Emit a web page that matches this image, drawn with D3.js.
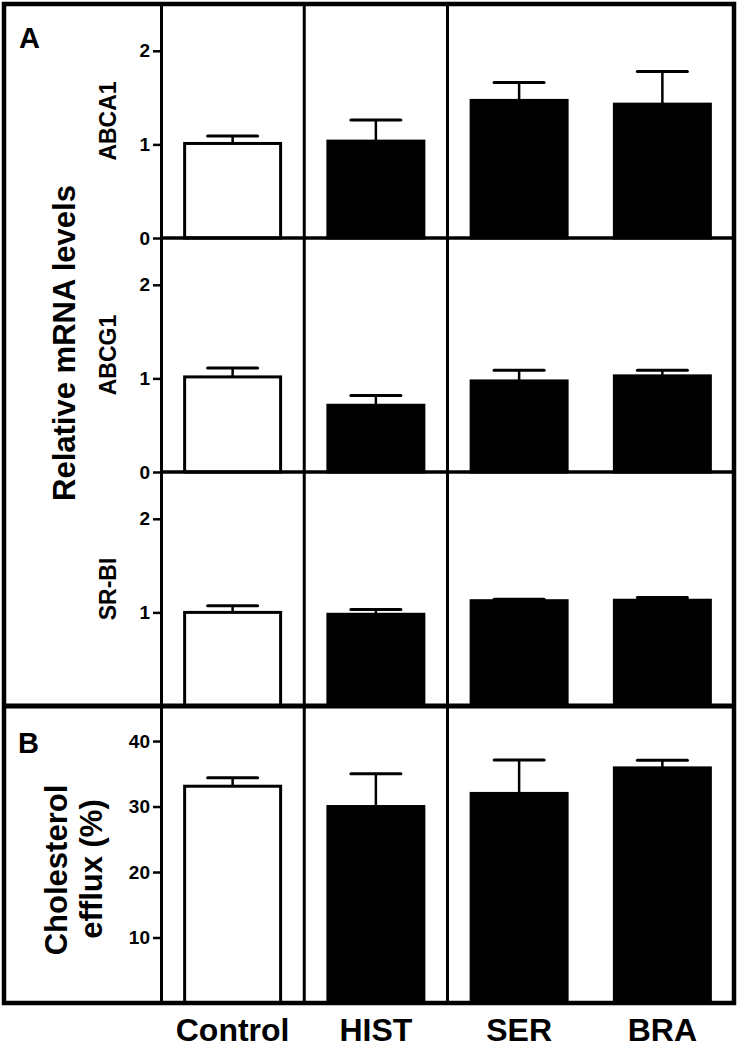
<!DOCTYPE html>
<html>
<head>
<meta charset="utf-8">
<script src="https://cdn.jsdelivr.net/npm/d3@7"></script>
<style>
  html, body { margin: 0; padding: 0; background: #fff; }
  svg { display: block; }
  text { font-family: "Liberation Sans", Arial, Helvetica, sans-serif; fill: #000; }
</style>
</head>
<body>
<svg id="chart" width="738" height="1049"></svg>
<script>
// ---- data ----
const categories = ["Control", "HIST", "SER", "BRA"];
const barFills = ["#ffffff", "#000000", "#000000", "#000000"];

const abca1     = [1.01, 1.035, 1.47, 1.43];
const abca1Err  = [0.08, 0.225, 0.19, 0.35];
const abcg1     = [1.016, 0.713, 0.973, 1.027];
const abcg1Err  = [0.094, 0.104, 0.115, 0.061];
const srbi      = [1.0, 0.98, 1.125, 1.13];
const srbiErr   = [0.07, 0.05, 0.015, 0.03];
const efflux    = [33.1, 30.0, 32.0, 35.9];
const effluxErr = [1.3, 5.0, 5.1, 1.15];

const mrnaTicks   = [0, 1, 2];
const srbiTicks   = [1, 2];
const effluxTicks = [10, 20, 30, 40];

// ---- layout ----
const svg = d3.select("#chart");
const plotLeft = 161, plotRight = 734, plotTop = 4;
const hA = 234, hB = 297;

const panels = [
  { name: "ABCA1", values: abca1, err: abca1Err, ticks: mrnaTicks, max: 2.5, y0: plotTop, h: hA, zeroLine: true },
  { name: "ABCG1", values: abcg1, err: abcg1Err, ticks: mrnaTicks, max: 2.5, y0: plotTop + hA, h: hA, zeroLine: true },
  { name: "SR-BI", values: srbi, err: srbiErr, ticks: srbiTicks, max: 2.5, y0: plotTop + 2 * hA, h: hA, zeroLine: false },
  { name: "B", values: efflux, err: effluxErr, ticks: effluxTicks, max: 45.35, y0: plotTop + 3 * hA, h: hB, zeroLine: false }
];
const plotBottom = plotTop + 3 * hA + hB;

const x = d3.scaleBand().domain(categories).range([plotLeft, plotRight])
  .paddingInner(0.33).paddingOuter(0.165);
const capHalf = 25;

panels.forEach(p => {
  const y = d3.scaleLinear().domain([0, p.max]).range([p.y0 + p.h, p.y0]);
  const g = svg.append("g");

  // bars
  g.selectAll("rect.bar").data(categories).join("rect")
    .attr("class", "bar")
    .attr("x", d => x(d))
    .attr("width", x.bandwidth())
    .attr("y", (d, i) => y(p.values[i]))
    .attr("height", (d, i) => y(0) - y(p.values[i]))
    .attr("fill", (d, i) => barFills[i])
    .attr("stroke", "#000")
    .attr("stroke-width", 3);

  // error bars
  const cx = d => x(d) + x.bandwidth() / 2;
  g.selectAll("line.stem").data(categories).join("line")
    .attr("class", "stem")
    .attr("x1", cx).attr("x2", cx)
    .attr("y1", (d, i) => y(p.values[i]))
    .attr("y2", (d, i) => y(p.values[i] + p.err[i]))
    .attr("stroke", "#000").attr("stroke-width", 2.5);
  g.selectAll("line.cap").data(categories).join("line")
    .attr("class", "cap")
    .attr("x1", d => cx(d) - capHalf).attr("x2", d => cx(d) + capHalf)
    .attr("y1", (d, i) => y(p.values[i] + p.err[i]))
    .attr("y2", (d, i) => y(p.values[i] + p.err[i]))
    .attr("stroke", "#000").attr("stroke-width", 3).attr("stroke-linecap", "round");

  // zero line
  if (p.zeroLine) {
    g.append("line").attr("x1", plotLeft).attr("x2", plotRight)
      .attr("y1", y(0)).attr("y2", y(0))
      .attr("stroke", "#000").attr("stroke-width", 3.5);
  }

  // axis
  const axis = d3.axisLeft(y).tickValues(p.ticks).tickSizeInner(8).tickSizeOuter(0).tickPadding(3)
    .tickFormat(d3.format("d"));
  const ag = svg.append("g").attr("transform", `translate(${plotLeft},0)`).call(axis);
  ag.select(".domain").attr("stroke", "#000").attr("stroke-width", 3);
  ag.selectAll(".tick line").attr("stroke", "#000").attr("stroke-width", 2.5);
  ag.selectAll(".tick text")
    .style("font-family", '"Liberation Sans", Arial, sans-serif')
    .style("font-size", "19px").style("font-weight", "bold").attr("fill", "#000");

  // panel gene label
  if (p.name !== "B") {
    svg.append("text")
      .attr("transform", `translate(116,${p.y0 + p.h / 2}) rotate(-90)`)
      .attr("text-anchor", "middle")
      .style("font-size", "23px").style("font-weight", "bold")
      .text(p.name);
  }
});

// vertical dividers between groups
[1, 2].forEach(i => {
  const xv = x(categories[i]) - x.step() * x.paddingInner() / 2;
  svg.append("line").attr("x1", xv).attr("x2", xv).attr("y1", plotTop).attr("y2", plotBottom)
    .attr("stroke", "#000").attr("stroke-width", 3);
});

// separator between A and B
svg.append("line").attr("x1", 4).attr("x2", plotRight)
  .attr("y1", plotTop + 3 * hA).attr("y2", plotTop + 3 * hA)
  .attr("stroke", "#000").attr("stroke-width", 5);

// outer frame
svg.append("rect").attr("x", 4).attr("y", plotTop).attr("width", plotRight - 4).attr("height", plotBottom - plotTop)
  .attr("fill", "none").attr("stroke", "#000").attr("stroke-width", 4.5);

// panel letters
svg.append("text").attr("x", 19).attr("y", 48).style("font-size", "29px").style("font-weight", "bold").text("A");
svg.append("text").attr("x", 18).attr("y", 753).style("font-size", "29px").style("font-weight", "bold").text("B");

// y titles
svg.append("text")
  .attr("transform", "translate(75,343) rotate(-90)")
  .attr("text-anchor", "middle")
  .style("font-size", "31px").style("font-weight", "bold")
  .text("Relative mRNA levels");

svg.append("text")
  .attr("transform", "translate(67,870) rotate(-90)")
  .attr("text-anchor", "middle")
  .style("font-size", "31px").style("font-weight", "bold")
  .text("Cholesterol");
svg.append("text")
  .attr("transform", "translate(102,869) rotate(-90)")
  .attr("text-anchor", "middle")
  .style("font-size", "31px").style("font-weight", "bold")
  .text("efflux (%)");

// category labels
svg.selectAll("text.cat").data(categories).join("text")
  .attr("class", "cat")
  .attr("x", d => x(d) + x.bandwidth() / 2)
  .attr("y", 1041)
  .attr("text-anchor", "middle")
  .style("font-size", "32px").style("font-weight", "bold")
  .text(d => d);
</script>
</body>
</html>
